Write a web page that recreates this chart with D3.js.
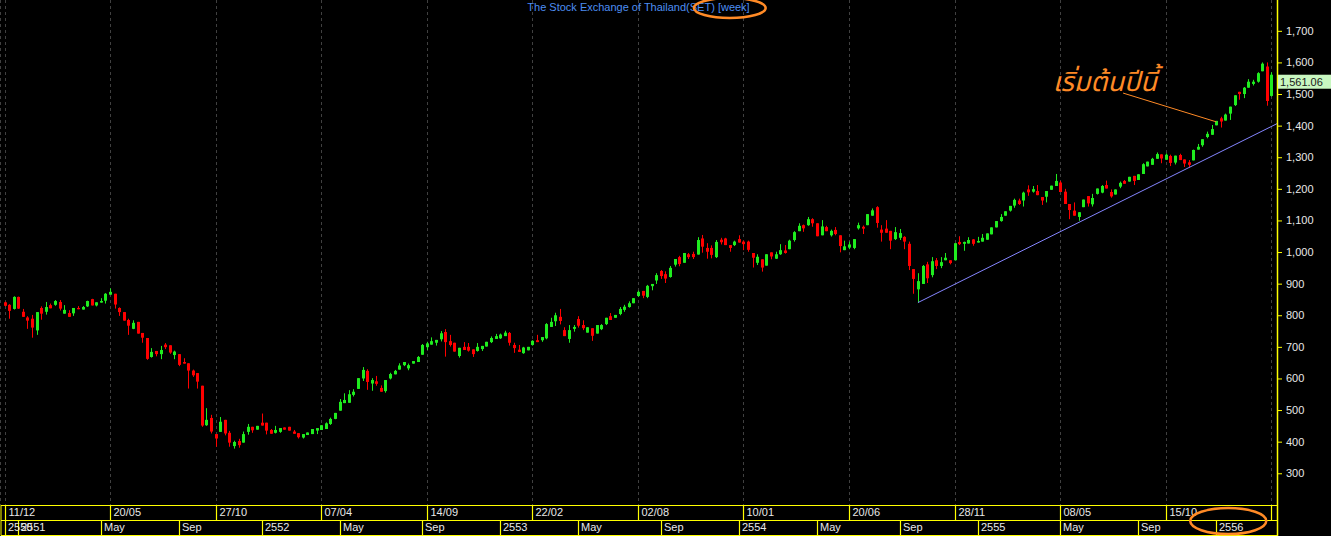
<!DOCTYPE html>
<html><head><meta charset="utf-8">
<script src="https://cdn.jsdelivr.net/npm/d3@7"></script>
<style>html,body{margin:0;padding:0;background:#000;overflow:hidden}</style>
</head><body><svg id="c" width="1331" height="536"></svg>
<script>
// ---- data: weekly SET index, Dec 2007 - Mar 2013 ----
const opens = [841,833,820,858,811,793,789,752,823,811, 832,833,842,805,807,806,823,818,828,851,
 831,840,846,865,868,823,810,785,757,779, 744,728,668,687,677,707,705,674,677,652,
 648,625,617,577,452,475,424,431,469,428, 386,402,397,431,447,438,460,460,437,428,
 431,445,447,432,427,413,421,424,435,437, 440,456,472,498,522,523,548,567,600,624,
 584,591,570,560,600,613,628,642,632,647, 652,675,699,707,713,724,747,718,713,671,
 700,700,692,687,693,701,715,725,727,734, 744,706,691,680,689,706,721,721,727,763,
 781,795,753,725,757,788,769,745,759,742, 756,772,797,792,804,817,826,838,861,877,
 858,892,910,940,930,921,960,984,966,993, 994,992,1043,1013,1013,984,1039,1043,1022,1022,
 1041,1033,1033,997,966,977,957,999,979,993, 1005,1009,1038,1066,1085,1085,1104,1091,1053,1079,
 1053,1070,1053,1006,1014,1013,1075,1080,1085,1115, 1142,1071,1074,1067,1041,1045,1048,1026,946,882,
 899,961,927,974,956,974,974,974,1032,1026, 1027,1040,1030,1033,1039,1056,1078,1098,1115,1131,
 1147,1163,1163,1198,1191,1193,1174,1175,1197,1209, 1220,1191,1152,1131,1111,1142,1177,1151,1184,1188,
 1212,1190,1182,1207,1225,1223,1241,1228,1247,1271, 1276,1295,1309,1292,1304,1283,1307,1293,1284,1290,
 1324,1338,1364,1371,1401,1423,1416,1438,1465,1507, 1500,1520,1532,1539,1572,1587,1494];
const highs = [843,835,860,859,820,797,801,810,828,842, 837,848,848,832,816,823,829,829,846,852,
 841,854,870,885,868,825,810,789,784,779, 744,728,696,687,703,712,705,688,677,664,
 648,628,617,577,506,485,424,478,469,434, 403,409,432,456,447,450,489,460,440,450,
 443,445,447,437,427,424,429,440,443,452, 461,476,491,535,553,563,566,601,636,629,
 601,608,578,595,618,627,648,652,647,655, 671,709,716,730,722,750,756,738,713,697,
 715,712,692,712,703,716,733,741,742,751, 747,713,706,700,700,721,738,731,775,792,
 808,820,762,769,769,797,784,762,759,769, 772,792,807,801,826,833,844,854,878,877,
 896,899,933,943,939,956,978,988,997,997, 1001,1047,1054,1028,1021,1038,1045,1045,1022,1036,
 1053,1036,1036,997,993,977,993,999,1001,1025, 1022,1039,1066,1091,1087,1111,1107,1091,1101,1083,
 1071,1079,1053,1036,1033,1041,1093,1084,1120,1138, 1145,1085,1101,1067,1079,1073,1050,1033,946,933,
 959,969,984,981,984,997,974,1028,1050,1033, 1047,1041,1048,1057,1059,1078,1098,1120,1129,1146,
 1169,1169,1191,1211,1209,1212,1174,1193,1210,1247, 1225,1200,1152,1157,1126,1166,1177,1184,1201,1212,
 1226,1198,1198,1223,1228,1238,1241,1246,1281,1286, 1298,1315,1309,1312,1308,1305,1311,1293,1291,1324,
 1342,1357,1381,1402,1415,1428,1438,1460,1496,1507, 1522,1547,1545,1569,1600,1600,1569];
const lows = [828,789,818,820,795,757,729,738,786,802, 822,830,815,805,795,798,819,818,826,831,
 828,840,837,865,821,798,783,738,756,742, 713,659,666,670,661,693,678,661,639,647,
 568,605,568,447,450,426,384,431,420,384, 378,381,397,422,428,438,451,423,425,426,
 428,438,435,425,410,410,421,424,424,437, 440,453,471,498,522,523,543,567,592,564,
 561,577,558,555,597,613,628,639,626,647, 652,675,690,707,704,717,669,701,685,666,
 690,685,668,685,687,701,712,725,725,734, 704,681,684,678,689,704,715,716,724,763,
 766,771,734,713,748,761,753,745,719,742, 753,769,785,792,800,811,824,838,858,854,
 854,879,899,915,902,919,954,955,966,978, 978,992,998,979,980,981,1024,1022,1001,1019,
 1030,1006,1001,951,959,938,957,977,978,991, 995,1009,1033,1066,1064,1083,1080,1050,1053,1066,
 1049,1053,999,1006,1009,1009,1071,1057,1085,1115, 1077,1033,1061,1009,1038,1038,1009,943,868,840,
 899,902,920,946,949,974,961,974,1022,1004, 1027,1020,1030,1033,1039,1056,1078,1096,1115,1128,
 1140,1149,1144,1178,1188,1180,1149,1157,1197,1209, 1190,1152,1104,1115,1099,1142,1144,1144,1182,1186,
 1201,1172,1182,1202,1216,1223,1212,1228,1247,1271, 1276,1295,1281,1292,1272,1277,1291,1269,1267,1290,
 1324,1333,1360,1371,1401,1394,1416,1418,1462,1482, 1487,1520,1527,1536,1572,1463,1492];
const closes = [830,814,858,821,795,783,761,810,805,826, 822,845,821,817,795,823,819,826,845,831,
 841,845,868,874,834,810,783,767,776,742, 729,662,684,677,690,699,682,685,643,647,
 625,610,590,451,469,432,410,463,426,397, 399,389,424,447,436,450,451,435,425,437,
 443,438,435,425,414,424,429,440,443,452, 458,472,491,526,532,550,558,601,627,589,
 595,583,558,595,614,624,641,652,642,655, 668,706,711,718,722,743,715,706,685,697,
 690,688,677,700,703,716,728,734,739,745, 713,696,684,698,700,719,715,731,772,779,
 800,782,734,753,763,767,759,762,735,769, 769,792,785,801,820,827,838,854,874,862,
 893,899,927,924,916,950,978,962,997,984, 984,1038,1017,1001,991,1032,1031,1022,1013,1033,
 1030,1025,1007,982,985,951,993,986,993,1006, 997,1036,1063,1083,1075,1104,1091,1050,1081,1066,
 1067,1057,1019,1018,1024,1041,1085,1074,1120,1132, 1092,1061,1061,1036,1063,1060,1033,956,915,908,
 956,917,971,956,968,982,965,1028,1025,1032, 1038,1026,1035,1045,1059,1078,1098,1111,1129,1146,
 1165,1152,1188,1189,1199,1180,1163,1193,1210,1225, 1190,1152,1133,1115,1126,1166,1154,1171,1201,1209,
 1201,1176,1198,1219,1216,1238,1225,1246,1278,1286, 1295,1310,1296,1308,1282,1305,1291,1280,1276,1323,
 1333,1357,1374,1389,1415,1413,1435,1460,1496,1500, 1520,1539,1539,1566,1596,1478,1561.06];

// axis tick labels
const priceTicks = [300,400,500,600,700,800,900,1000,1100,1200,1300,1400,1500,1600,1700];
const weekLabels = ["11/12","20/05","27/10","07/04","14/09","22/02","02/08","10/01","20/06","28/11","08/05","15/10",""];
const weekStep = 23;
const periodLabels = ["2550","2551","May","Sep","2552","May","Sep","2553","May","Sep","2554","May","Sep","2555","May","Sep","2556"];
const periodBars   = [0,3,21,38,56,73,91,108,125,143,160,177,195,212,230,247,264];

// trend line through two lows, annotation
const trendFrom = {bar:199, value:840};
const trendTo   = {bar:258, value:1267};
const noteText = "เริ่มต้นปีนี้";
const note = {textBar:228.4, textValue:1509, fromBar:243.7, fromValue:1503, toBar:264, toValue:1412};
const title = "The Stock Exchange of Thailand(SET) ";
const titleTag = "[week]";

// ---- drawing ----
const W=1331, H=536;
const plotRight = 1277, plotBottom = 505;
const svg = d3.select('#c');
svg.append('rect').attr('width',W).attr('height',H).attr('fill','#000');

const n = closes.length;
const x = d3.scaleLinear().domain([0, n-1]).range([4.5, 4.5 + (n-1)*4.59]);
const y = d3.scaleLinear().domain([199.6, 1797.5]).range([plotBottom, 0]);
const px = v => Math.round(x(v)) + 0.5;

// vertical dashed grid
const gridBars = d3.range(0, n, weekStep);
const grid = svg.append('g');
grid.selectAll('line.g').data(gridBars).join('line')
  .attr('x1', px).attr('x2', px).attr('y1', 0).attr('y2', plotBottom)
  .attr('stroke', '#404040').attr('stroke-dasharray', '3,3');
grid.append('line').attr('x1',0.5).attr('x2',0.5).attr('y1',0).attr('y2',plotBottom)
  .attr('stroke','#404040').attr('stroke-dasharray','3,3');

// candles
const bars = d3.range(n).map(i => ({i, o:opens[i], h:highs[i], l:lows[i], c:closes[i]}));
const up = '#1fec1f', dn = '#ff0000';
const cg = svg.append('g');
cg.selectAll('line.w').data(bars).join('line')
  .attr('x1', d=>px(d.i)).attr('x2', d=>px(d.i))
  .attr('y1', d=>y(d.h)).attr('y2', d=>y(d.l))
  .attr('stroke', d=> d.c>=d.o?up:dn).attr('stroke-width',1);
cg.selectAll('rect').data(bars).join('rect')
  .attr('x', d=>Math.round(x(d.i))-1).attr('width', 3)
  .attr('y', d=>y(Math.max(d.o,d.c)))
  .attr('height', d=>Math.max(1, Math.abs(y(d.o)-y(d.c))))
  .attr('fill', d=> d.c>=d.o?up:dn);

// trend line extended to the right edge
const slope = (trendTo.value - trendFrom.value)/(trendTo.bar - trendFrom.bar);
const endBar = x.invert(plotRight);
svg.append('line')
  .attr('x1', x(trendFrom.bar)).attr('y1', y(trendFrom.value))
  .attr('x2', x(endBar)).attr('y2', y(trendFrom.value + slope*(endBar - trendFrom.bar)))
  .attr('stroke', '#8585ff').attr('stroke-width', 1);

// annotation
const orange = '#ff8a26';
svg.append('line')
  .attr('x1', x(note.fromBar)).attr('y1', y(note.fromValue))
  .attr('x2', x(note.toBar)).attr('y2', y(note.toValue))
  .attr('stroke', orange).attr('stroke-width', 1);
svg.append('text')
  .attr('x', x(note.textBar)).attr('y', y(note.textValue))
  .attr('font-family', "'Noto Sans Thai','Noto Serif Thai','Noto Sans','DejaVu Sans',sans-serif")
  .attr('font-size', 27).attr('font-style','italic')
  .attr('fill', orange).text(noteText);

// title
const tt = svg.append('text')
  .attr('x', plotRight/2).attr('y', 11).attr('text-anchor','middle')
  .attr('font-family', "'Liberation Sans', Arial, sans-serif").attr('font-size', 11)
  .attr('fill', '#4d8ef2');
tt.append('tspan').text(title);
tt.append('tspan').text(titleTag);
{
  const node = tt.node();
  const s = title.length, e = title.length + titleTag.length - 1;
  const x0 = node.getStartPositionOfChar(s).x, x1 = node.getEndPositionOfChar(e).x;
  svg.append('ellipse').attr('cx', (x0+x1)/2 - 4).attr('cy', 8)
    .attr('rx', (x1-x0)/2 + 20).attr('ry', 10)
    .attr('fill','none').attr('stroke', orange).attr('stroke-width', 2.5);
}

// right axis
const yellow = '#ffff00';
const ax = svg.append('g').attr('transform', `translate(${plotRight},0)`)
  .call(d3.axisRight(y).tickValues(priceTicks).tickFormat(d3.format(',')).tickSize(5).tickPadding(4));
ax.select('.domain').remove();
ax.selectAll('.tick line').attr('stroke', yellow);
ax.selectAll('.tick text').attr('fill', '#e8e8e8')
  .attr('font-family', "'Liberation Sans', Arial, sans-serif").attr('font-size', 11);
svg.append('line').attr('x1', plotRight+0.5).attr('x2', plotRight+0.5).attr('y1', 0).attr('y2', H)
  .attr('stroke', yellow).attr('stroke-width', 1.5);

// last price label
const last = closes[n-1];
svg.append('rect').attr('x', plotRight+1).attr('y', y(last)).attr('width', W-plotRight-1).attr('height', 14)
  .attr('fill', '#c8f7c0');
svg.append('text').attr('x', plotRight+3).attr('y', y(last)+11)
  .attr('font-family', "'Liberation Sans', Arial, sans-serif").attr('font-size', 11)
  .attr('fill', '#1a1a1a').text(d3.format(',.2f')(last));

// bottom time axis (two rows)
const bt = svg.append('g');
[plotBottom, 520, 535].forEach(yy => bt.append('line')
  .attr('x1', 1).attr('x2', plotRight).attr('y1', yy+0.5).attr('y2', yy+0.5)
  .attr('stroke', yellow).attr('stroke-width', 1.2));
bt.append('line').attr('x1',1).attr('x2',1).attr('y1',plotBottom).attr('y2',535.5).attr('stroke',yellow);
bt.selectAll('line.r1').data(gridBars).join('line')
  .attr('x1', px).attr('x2', px).attr('y1', plotBottom).attr('y2', 520.5)
  .attr('stroke', yellow).attr('stroke-width', 1.2);
bt.selectAll('text.r1').data(gridBars).join('text')
  .attr('x', d=>px(d)+3).attr('y', 516)
  .attr('font-family', "'Liberation Sans', Arial, sans-serif").attr('font-size', 11)
  .attr('fill', '#e8e8e8').text((d,k)=>weekLabels[k]);
bt.selectAll('line.r2').data(periodBars).join('line')
  .attr('x1', px).attr('x2', px).attr('y1', 520).attr('y2', 535.5)
  .attr('stroke', yellow).attr('stroke-width', 1.2);
const pl = bt.selectAll('text.r2').data(periodBars).join('text')
  .attr('x', d=>px(d)+2.5).attr('y', 531)
  .attr('font-family', "'Liberation Sans', Arial, sans-serif").attr('font-size', 11)
  .attr('fill', '#e8e8e8').text((d,k)=>periodLabels[k]);

// highlight ellipse around latest year label
{
  const node = pl.nodes()[periodLabels.length-1];
  const b = node.getBBox();
  svg.append('ellipse').attr('cx', b.x + b.width/2 - 3).attr('cy', 521)
    .attr('rx', 38).attr('ry', 13)
    .attr('fill','none').attr('stroke', orange).attr('stroke-width', 2.5);
}
</script></body></html>
